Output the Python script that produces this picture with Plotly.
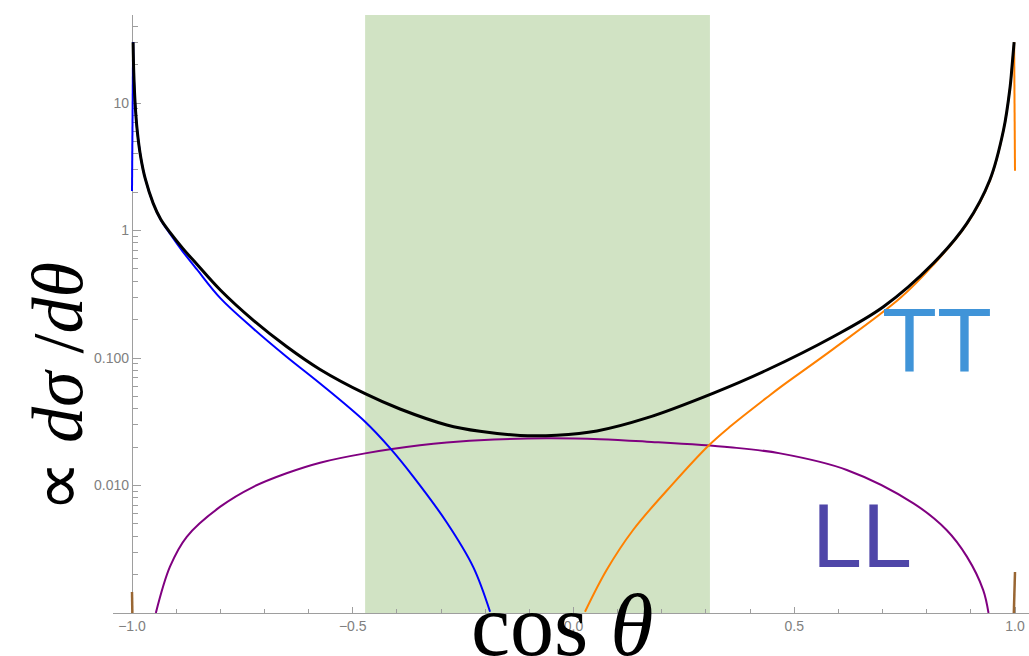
import numpy as np
import plotly.graph_objects as go

# ---------------- data ----------------
total_x = [-0.9975, -0.996, -0.993, -0.988, -0.980, -0.970, -0.952, -0.935, -0.914, -0.885, -0.853,
           -0.80, -0.725, -0.65, -0.574, -0.472, -0.393, -0.287, -0.212, -0.121, -0.038, 0.053,
           0.166, 0.317, 0.438, 0.588, 0.702, 0.815, 0.891, 0.943, 0.974, 0.989, 0.9925, 0.998]
total_log = [1.477, 1.238, 1.0, 0.778, 0.571, 0.406, 0.213, 0.088, -0.015, -0.14, -0.265,
             -0.467, -0.705, -0.91, -1.09, -1.28, -1.40, -1.525, -1.575, -1.607, -1.605, -1.572,
             -1.47, -1.275, -1.094, -0.833, -0.598, -0.257, 0.056, 0.396, 0.788, 1.128, 1.255, 1.477]

blue_x = [-1.0, -0.9975, -0.996, -0.993, -0.988, -0.980, -0.970, -0.952, -0.935, -0.914, -0.885,
          -0.853, -0.80, -0.725, -0.65, -0.574, -0.472, -0.416, -0.363, -0.287, -0.227, -0.189]
blue_log = [0.31, 1.477, 1.238, 1.0, 0.778, 0.571, 0.406, 0.213, 0.085, -0.025, -0.165,
            -0.305, -0.53, -0.77, -0.99, -1.2, -1.5, -1.705, -1.93, -2.29, -2.64, -2.99]

orange_x = [0.026, 0.075, 0.135, 0.226, 0.305, 0.354, 0.438, 0.468, 0.588, 0.740, 0.815, 0.891,
            0.943, 0.974, 0.989, 0.9925, 0.998, 1.0]
orange_log = [-2.99, -2.663, -2.349, -1.983, -1.69, -1.54, -1.31, -1.23, -0.93, -0.53, -0.27, 0.05,
              0.39, 0.785, 1.125, 1.255, 1.477, 0.469]

ll_x = [-0.946, -0.914, -0.876, -0.80, -0.725, -0.65, -0.574, -0.472, -0.348, -0.287, -0.18,
        -0.061, 0.06, 0.166, 0.354, 0.468, 0.619, 0.770, 0.845, 0.891, 0.928, 0.940]
ll_log = [-3.0, -2.637, -2.402, -2.166, -2.01, -1.904, -1.821, -1.748, -1.685, -1.663, -1.640,
          -1.630, -1.637, -1.656, -1.70, -1.748, -1.878, -2.14, -2.349, -2.558, -2.82, -3.0]

brown_left_x = [-1.0, -0.999]
brown_left_y = [0.00146, 0.0009]
brown_right_x = [0.997, 1.0]
brown_right_y = [0.0009, 0.0021]

band_lo, band_hi = -0.472, 0.309

x_tickvals = [-1.0, -0.5, 0.0, 0.5, 1.0]
x_ticktext = ["\u22121.0", "\u22120.5", "0.0", "0.5", "1.0"]
y_tickvals = [0.01, 0.1, 1, 10]
y_ticktext = ["0.010", "0.100", "1", "10"]
y_minor = [m * 10.0 ** e for e in range(-3, 2) for m in range(2, 10)] + [0.01, 0.1, 1, 10]

total_y = [10 ** v for v in total_log]
blue_y = [10 ** v for v in blue_log]
orange_y = [10 ** v for v in orange_log]
ll_y = [10 ** v for v in ll_log]

# ---------------- layout geometry ----------------
W, H = 1029, 656
ML, MR, MT, MB = 113, 0, 15, 43
PW, PH = W - ML - MR, H - MT - MB
PX_PER_UNIT = 441.5
x_min = -1.0 - 19 / PX_PER_UNIT
x_max = x_min + PW / PX_PER_UNIT
PX_PER_DEC = 127.5
y_lo = -3.0
y_hi = y_lo + PH / PX_PER_DEC


def P(px, py):
    return (px - ML) / PW, (H - MB - py) / PH


fig = go.Figure()


def line(x, y, color, width, shape="spline"):
    fig.add_trace(go.Scatter(x=x, y=y, mode="lines",
                             line=dict(color=color, width=width, shape=shape, smoothing=1.0),
                             hoverinfo="skip", showlegend=False))


line(ll_x, ll_y, "#800080", 2)
line(blue_x[:2], blue_y[:2], "#0000ff", 2, "linear")
line(blue_x[1:], blue_y[1:], "#0000ff", 2)
line(orange_x[:-1], orange_y[:-1], "#ff8000", 2)
line(orange_x[-2:], orange_y[-2:], "#ff8000", 2, "linear")
line(brown_left_x, brown_left_y, "#996633", 2.5, "linear")
line(brown_right_x, brown_right_y, "#996633", 2.5, "linear")
line(total_x, total_y, "#000000", 3)

fig.add_shape(type="rect", xref="x", yref="paper", x0=band_lo, x1=band_hi, y0=0, y1=1,
              fillcolor="#d1e3c4", line=dict(width=0), layer="below")

axis_col = "#9e9e9e"
tick_font = dict(family="Liberation Sans, Arial", size=14, color="#808080")

fig.update_layout(
    width=W, height=H,
    margin=dict(l=ML, r=MR, t=MT, b=MB, pad=0),
    plot_bgcolor="white", paper_bgcolor="white",
    xaxis=dict(range=[x_min, x_max], showgrid=False, zeroline=False, layer="below traces",
               showline=True, linecolor=axis_col, linewidth=1.3,
               ticks="inside", ticklen=6, tickcolor=axis_col, tickwidth=1,
               tickvals=x_tickvals, ticktext=x_ticktext, tickfont=tick_font,
               minor=dict(dtick=0.1, tick0=0, ticks="inside", ticklen=4, tickcolor=axis_col,
                          showgrid=False)),
    yaxis=dict(type="log", range=[y_lo, y_hi], showgrid=False, zeroline=False,
               anchor="free", position=19 / PW, layer="below traces",
               showline=True, linecolor=axis_col, linewidth=1.3,
               ticks="inside", ticklen=8, tickcolor=axis_col, tickwidth=1,
               tickvals=y_tickvals, ticktext=y_ticktext, tickfont=tick_font,
               minor=dict(tickvals=y_minor, ticks="inside", ticklen=5, tickcolor=axis_col,
                          showgrid=False)),
)

ann = []
x, y = P(562, 625)
ann.append(dict(text="cos <i>θ</i>", x=x, y=y, xref="paper", yref="paper",
                xanchor="center", yanchor="middle", showarrow=False,
                font=dict(family="Liberation Serif, Times New Roman", size=88, color="black")))
x, y = P(58, 387)
ann.append(dict(text="∝ <i>dσ</i> /<i>dθ</i>", x=x, y=y, xref="paper", yref="paper",
                xanchor="center", yanchor="middle", showarrow=False, textangle=-90,
                font=dict(family="Liberation Serif, Times New Roman", size=72, color="black")))
x, y = P(937, 341)
ann.append(dict(text="TT", x=x, y=y, xref="paper", yref="paper",
                xanchor="center", yanchor="middle", showarrow=False,
                font=dict(family="Liberation Sans, Arial", size=90, color="#4094d8")))
x, y = P(862, 536)
ann.append(dict(text="LL", x=x, y=y, xref="paper", yref="paper",
                xanchor="center", yanchor="middle", showarrow=False,
                font=dict(family="Liberation Sans, Arial", size=90, color="#4f46a8")))
fig.update_layout(annotations=ann)

fig.write_html("out.html")
